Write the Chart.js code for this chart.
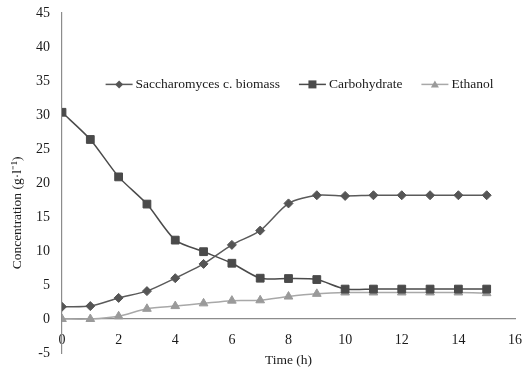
<!DOCTYPE html>
<html>
<head>
<meta charset="utf-8">
<script src="https://cdn.jsdelivr.net/npm/chart.js@4.4.1/dist/chart.umd.min.js"></script>
<style>
  html, body { margin: 0; padding: 0; background: #fff; }
  #wrap { width: 530px; height: 374px; }
</style>
</head>
<body>
<div id="wrap"><canvas id="c" width="530" height="374"></canvas></div>
<script>
const times = [0, 1, 2, 3, 4, 5, 6, 7, 8, 9, 10, 11, 12, 13, 14, 15];
const biomass = [1.8, 1.9, 3.1, 4.1, 6.0, 8.1, 10.9, 13.0, 17.0, 18.2, 18.1, 18.2, 18.2, 18.2, 18.2, 18.2];
const carbohydrate = [30.4, 26.4, 20.9, 16.9, 11.6, 9.9, 8.2, 6.0, 5.95, 5.8, 4.4, 4.4, 4.4, 4.4, 4.4, 4.4];
const ethanol = [0.0, 0.0, 0.4, 1.5, 1.9, 2.3, 2.7, 2.75, 3.3, 3.7, 3.9, 3.9, 3.9, 3.9, 3.9, 3.8];
const seriesNames = ['Saccharomyces c. biomass', 'Carbohydrate', 'Ethanol'];
const xTitle = 'Time (h)';
const yTitle = 'Concentration (g\u00b7l\u207b\u00b9)';

const FONT = '"Liberation Serif", "Times New Roman", serif';

function pts(arr) { return times.map((t, i) => ({ x: t, y: arr[i] })); }

const legendPlugin = {
  id: 'customLegend',
  afterDraw(chart) {
    const ctx = chart.ctx;
    const ca = chart.chartArea;
    const xs = chart.scales.x, ys = chart.scales.y;
    ctx.save();
    ctx.font = '13.5px ' + FONT;
    ctx.textBaseline = 'middle';
    const lineW = 27, textGap = 3, itemGap = 19;
    const items = chart.data.datasets.map(ds => ({ ds, w: ctx.measureText(ds.label).width }));
    let total = 0;
    items.forEach((it, i) => { total += lineW + textGap + it.w + (i < items.length - 1 ? itemGap : 0); });
    let x = (ca.left + ca.right) / 2 + 11 - total / 2;
    const y = ys.getPixelForValue(34.5);
    items.forEach(it => {
      const ds = it.ds;
      ctx.strokeStyle = ds.borderColor;
      ctx.lineWidth = ds.borderWidth;
      ctx.beginPath();
      ctx.moveTo(x, y); ctx.lineTo(x + lineW, y); ctx.stroke();
      const cx = x + lineW / 2;
      ctx.fillStyle = ds.pointBackgroundColor;
      ctx.beginPath();
      if (ds.pointStyle === 'rectRot') {
        const r = 4;
        ctx.moveTo(cx, y - r); ctx.lineTo(cx + r, y); ctx.lineTo(cx, y + r); ctx.lineTo(cx - r, y); ctx.closePath();
      } else if (ds.pointStyle === 'rect') {
        const s = 4;
        ctx.rect(cx - s, y - s, 2 * s, 2 * s);
      } else {
        const r = 4;
        ctx.moveTo(cx, y - r); ctx.lineTo(cx + r, y + r * 0.75); ctx.lineTo(cx - r, y + r * 0.75); ctx.closePath();
      }
      ctx.fill();
      ctx.fillStyle = '#1a1a1a';
      ctx.textAlign = 'left';
      ctx.fillText(ds.label, x + lineW + textGap, y);
      x += lineW + textGap + it.w + itemGap;
    });
    // axis titles
    ctx.font = '13.5px ' + FONT;
    ctx.textAlign = 'center';
    ctx.textBaseline = 'middle';
    ctx.fillText(xTitle, (xs.left + xs.right) / 2, ca.bottom + 7);
    ctx.translate(17, ys.getPixelForValue(15.6));
    ctx.rotate(-Math.PI / 2);
    ctx.fillText(yTitle, 0, 0);
    ctx.restore();
  }
};

new Chart(document.getElementById('c'), {
  type: 'line',
  data: {
    datasets: [
      {
        label: seriesNames[0], data: pts(biomass),
        borderColor: '#5a5a5a', borderWidth: 1.5,
        pointStyle: 'rectRot', pointRadius: 4.5,
        pointBackgroundColor: '#555555', pointBorderColor: '#555555', pointBorderWidth: 1,
        tension: 0.25
      },
      {
        label: seriesNames[1], data: pts(carbohydrate),
        borderColor: '#4a4a4a', borderWidth: 1.5,
        pointStyle: 'rect', pointRadius: 5.5,
        pointBackgroundColor: '#4a4a4a', pointBorderColor: '#4a4a4a', pointBorderWidth: 1,
        tension: 0.25
      },
      {
        label: seriesNames[2], data: pts(ethanol),
        borderColor: '#a8a8a8', borderWidth: 1.5,
        pointStyle: 'triangle', pointRadius: 5,
        pointBackgroundColor: '#9a9a9a', pointBorderColor: '#9a9a9a', pointBorderWidth: 1,
        tension: 0.25
      }
    ]
  },
  options: {
    responsive: false,
    animation: false,
    layout: { padding: { top: 13, right: 15, bottom: 21, left: 0 } },
    plugins: { legend: { display: false }, tooltip: { enabled: false } },
    scales: {
      x: {
        type: 'linear',
        position: { y: 0 },
        min: 0, max: 16,
        afterFit(scale) { scale.paddingLeft = 0; scale.paddingRight = 0; },
        grid: { display: false, drawTicks: false },
        border: { display: true, color: '#8c8c8c', width: 1.2 },
        ticks: { stepSize: 2, padding: 13, color: '#1a1a1a', font: { family: FONT, size: 14 }, maxRotation: 0 }
      },
      y: {
        type: 'linear',
        position: 'left',
        min: -5, max: 45,
        afterFit(scale) { scale.width = 62; scale.paddingTop = 0; scale.paddingBottom = 0; },
        grid: { display: false, drawTicks: false },
        border: { display: true, color: '#8c8c8c', width: 1.2 },
        ticks: { stepSize: 5, padding: 12, color: '#1a1a1a', font: { family: FONT, size: 14 } }
      }
    }
  },
  plugins: [legendPlugin]
});
</script>
</body>
</html>
